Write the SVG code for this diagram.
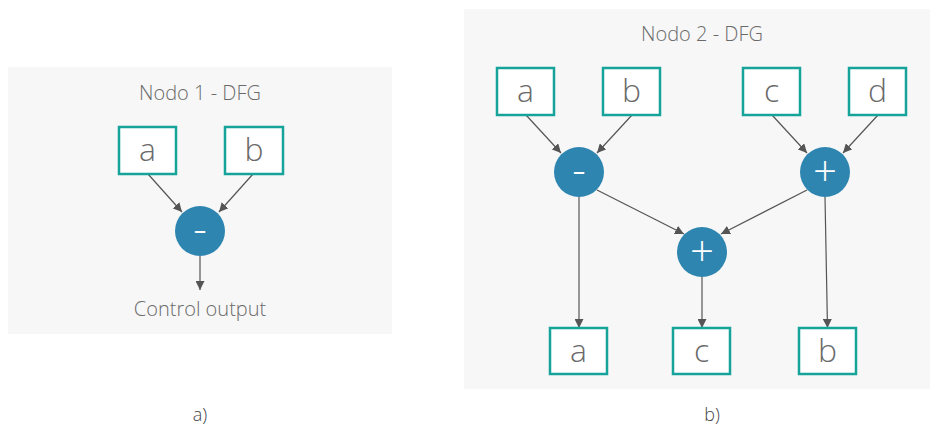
<svg xmlns="http://www.w3.org/2000/svg" width="930" height="428" viewBox="0 0 930 428">
  <defs>
    <marker id="arrow" viewBox="0 0 10 10" refX="10" refY="5" markerWidth="9" markerHeight="9" markerUnits="userSpaceOnUse" orient="auto">
      <path d="M0,0 L10,5 L0,10 z" fill="#555"/>
    </marker>
    <style>
      .panel { fill: #f7f7f7; }
      .title { font-family: "Open Sans", "Liberation Sans", sans-serif; font-weight: 300; font-size: 20px; fill: #6a6a6a; text-anchor: middle; }
      .box rect { fill: #ffffff; stroke: #15a39a; stroke-width: 2.5; }
      .box text { font-family: "Open Sans", "Liberation Sans", sans-serif; font-weight: 300; font-size: 32px; fill: #6a6a6a; text-anchor: middle; }
      .op circle { fill: #2d85b0; }
      .op text { font-family: "Open Sans", "Liberation Sans", sans-serif; font-weight: 300; font-size: 42px; fill: #ffffff; text-anchor: middle; }
      .edge { stroke: #555; stroke-width: 1.2; fill: none; marker-end: url(#arrow); }
      .caption { font-family: "Open Sans", "Liberation Sans", sans-serif; font-weight: 300; font-size: 18px; fill: #444; text-anchor: middle; }
      .out { font-family: "Open Sans", "Liberation Sans", sans-serif; font-weight: 300; font-size: 20px; fill: #6a6a6a; text-anchor: middle; }
    </style>
  </defs>

  <!-- panel a -->
  <rect class="panel" x="8" y="67" width="384" height="267"/>
  <text class="title" x="200" y="100">Nodo 1 - DFG</text>

  <!-- panel b -->
  <rect class="panel" x="464" y="9" width="466" height="380"/>
  <text class="title" x="702" y="41">Nodo 2 - DFG</text>

  <!-- connectors -->
  <g id="connectors">
    <line class="edge" x1="148" y1="174" x2="182" y2="212"/>
    <line class="edge" x1="253" y1="174" x2="219" y2="212"/>
    <line class="edge" x1="200" y1="256" x2="200" y2="290"/>

    <line class="edge" x1="526" y1="115" x2="561" y2="153"/>
    <line class="edge" x1="632" y1="115" x2="597" y2="153"/>
    <line class="edge" x1="772" y1="115" x2="807" y2="153"/>
    <line class="edge" x1="878" y1="115" x2="843" y2="153"/>
    <line class="edge" x1="597" y1="190" x2="684" y2="234"/>
    <line class="edge" x1="807" y1="190" x2="721" y2="234"/>
    <line class="edge" x1="579" y1="197" x2="579" y2="328"/>
    <line class="edge" x1="702" y1="277" x2="702" y2="328"/>
    <line class="edge" x1="825" y1="197" x2="827.5" y2="328"/>
  </g>

  <!-- panel a nodes -->
  <g id="a1-a" class="box"><rect x="119" y="127" width="57" height="47"/><text x="147.5" y="161">a</text></g>
  <g id="a1-b" class="box"><rect x="225" y="127" width="58" height="47"/><text x="254" y="161">b</text></g>
  <g id="a1-sub" class="op"><circle cx="200" cy="231" r="25"/><text x="200" y="244">-</text></g>
  <g id="a1-out"><text class="out" x="200" y="316">Control output</text></g>

  <!-- panel b nodes -->
  <g id="b-in-a" class="box"><rect x="497" y="68" width="57" height="47"/><text x="525.5" y="102">a</text></g>
  <g id="b-in-b" class="box"><rect x="603" y="68" width="57" height="47"/><text x="631.5" y="102">b</text></g>
  <g id="b-in-c" class="box"><rect x="743" y="68" width="57" height="47"/><text x="771.5" y="102">c</text></g>
  <g id="b-in-d" class="box"><rect x="849" y="68" width="57" height="47"/><text x="877.5" y="102">d</text></g>
  <g id="b-sub" class="op"><circle cx="579" cy="172" r="25"/><text x="579" y="185">-</text></g>
  <g id="b-add1" class="op"><circle cx="825" cy="172" r="25"/><text x="825" y="186">+</text></g>
  <g id="b-add2" class="op"><circle cx="702" cy="252" r="25"/><text x="702" y="266">+</text></g>
  <g id="b-out-a" class="box"><rect x="550" y="328" width="57" height="46"/><text x="578.5" y="362">a</text></g>
  <g id="b-out-c" class="box"><rect x="673" y="328" width="57" height="46"/><text x="701.5" y="362">c</text></g>
  <g id="b-out-b" class="box"><rect x="799" y="328" width="57" height="46"/><text x="827.5" y="362">b</text></g>

  <!-- captions -->
  <text class="caption" x="200" y="421">a)</text>
  <text class="caption" x="712" y="421">b)</text>
</svg>
